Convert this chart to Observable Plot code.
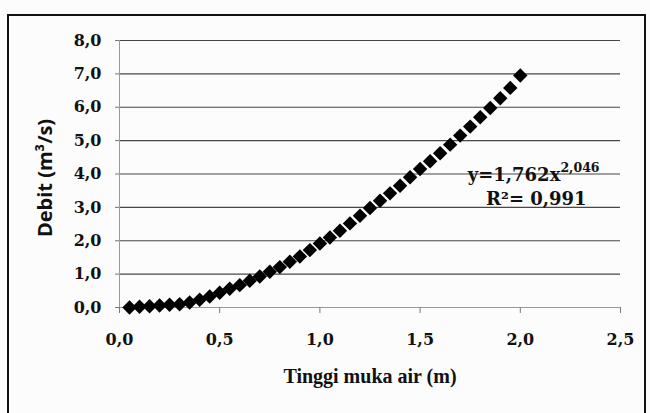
<!DOCTYPE html>
<html><head><meta charset="utf-8">
<script src="https://cdn.jsdelivr.net/npm/d3@7"></script>
<script src="https://cdn.jsdelivr.net/npm/@observablehq/plot@0.6"></script>
<style>
html,body{margin:0;padding:0;background:#fcfcfc;overflow:hidden;width:650px;height:413px;}
#wrap{position:relative;width:650px;height:413px;}
#frame{position:absolute;left:7px;top:14px;width:639px;height:410px;border:2.5px solid #111;box-sizing:border-box;pointer-events:none;}
#chart{position:absolute;left:0;top:0;}
</style></head>
<body><div id="wrap"><div id="chart"></div><div id="frame"></div></div>
<script>
const heights = [0.05,0.10,0.15,0.20,0.25,0.30,0.35,0.40,0.45,0.50,0.55,0.60,0.65,0.70,0.75,0.80,0.85,0.90,0.95,1.00,1.05,1.10,1.15,1.20,1.25,1.30,1.35,1.40,1.45,1.50,1.55,1.60,1.65,1.70,1.75,1.80,1.85,1.90,1.95,2.00];
const discharge = [0.00,0.02,0.04,0.06,0.08,0.10,0.15,0.23,0.33,0.44,0.56,0.67,0.80,0.93,1.07,1.21,1.37,1.53,1.72,1.92,2.10,2.30,2.52,2.75,2.98,3.20,3.42,3.65,3.90,4.15,4.38,4.62,4.88,5.15,5.42,5.70,5.98,6.27,6.58,6.95];
const xTicks = [0,0.5,1,1.5,2,2.5];
const yTicks = [0,1,2,3,4,5,6,7,8];
const xTitle = "Tinggi muka air (m)";
const yTitle = "Debit (m³/s)";
const eqMain = "y=1,762x";
const eqExp = "2,046";
const eqR2 = "R²= 0,991";
const eqPos = {x: 2.2, y: 3.95, expY: 4.17, r2x: 2.08, r2y: 3.25};

const data = heights.map((h,i)=>({h, q: discharge[i]}));
const fmt = d => d.toFixed(1).replace(".", ",");
const serif = "DejaVu Serif";

const chart = Plot.plot({
  width: 650, height: 413,
  marginLeft: 119, marginRight: 30, marginTop: 40, marginBottom: 106,
  x: {domain: [0, 2.5]},
  y: {domain: [0, 8]},
  style: {background: "transparent", overflow: "visible"},
  marks: [
    Plot.gridY(yTicks, {stroke: "#333", strokeOpacity: 0.9, strokeWidth: 1.2}),
    Plot.ruleX([0], {stroke: "#999"}),
    Plot.ruleY([0], {stroke: "#999"}),
    Plot.axisY(yTicks, {tickSize: 4, tickPadding: 14, stroke: "#777", tickFormat: fmt, fontSize: 16, fontWeight: "bold", fontFamily: serif, fill: "#111", label: null}),
    Plot.axisX(xTicks, {tickSize: 6, tickPadding: 20, stroke: "#777", tickFormat: fmt, fontSize: 16, fontWeight: "bold", fontFamily: serif, fill: "#111", label: null}),
    Plot.dot(data, {x: "h", y: "q", symbol: "diamond2", r: 6.5, fill: "#000", stroke: "none"}),
    Plot.text([xTitle], {frameAnchor: "bottom", dy: 75, fontSize: 20, fontWeight: "bold", fontFamily: "Liberation Serif", fill: "#111"}),
    Plot.text([yTitle], {frameAnchor: "left", textAnchor: "middle", dx: -74, dy: 4, rotate: -90, fontSize: 20, fontWeight: "bold", fontFamily: "Open Sans", fill: "#111"}),
    Plot.text([eqMain], {x: () => eqPos.x, y: () => eqPos.y, textAnchor: "end", fontSize: 18, fontWeight: "bold", fontFamily: serif, fill: "#111"}),
    Plot.text([eqExp], {x: () => eqPos.x, y: () => eqPos.expY, textAnchor: "start", fontSize: 12.5, fontWeight: "bold", fontFamily: serif, fill: "#111"}),
    Plot.text([eqR2], {x: () => eqPos.r2x, y: () => eqPos.r2y, textAnchor: "middle", fontSize: 18, fontWeight: "bold", fontFamily: serif, fill: "#111"})
  ]
});
document.getElementById("chart").appendChild(chart);
</script>
</body></html>
